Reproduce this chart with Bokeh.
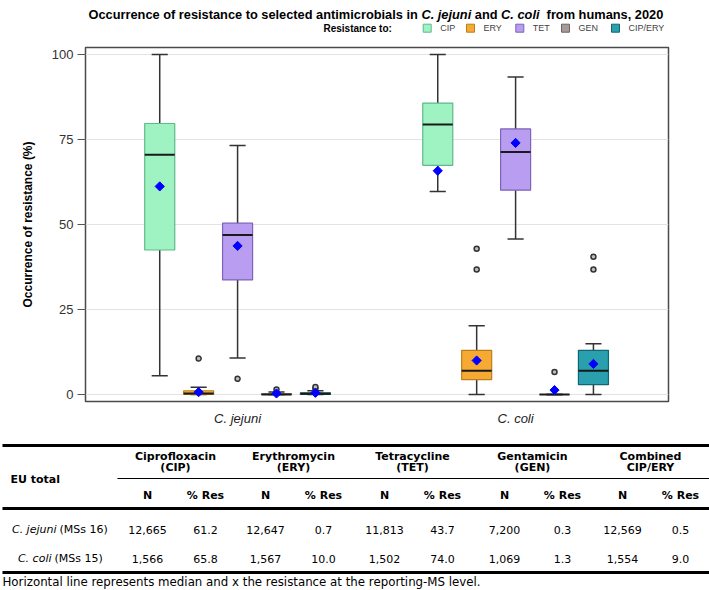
from bokeh.plotting import figure
from bokeh.models import Range1d, FixedTicker, ColumnDataSource
from bokeh.core.properties import value
from bokeh.embed import file_html
from bokeh.resources import INLINE

# ---------------- data ----------------
species = ["C. jejuni", "C. coli"]
species_ms = ["(MSs 16)", "(MSs 15)"]
antimicrobials = ["CIP", "ERY", "TET", "GEN", "CIP/ERY"]
header_line1 = ["Ciprofloxacin", "Erythromycin", "Tetracycline", "Gentamicin", "Combined"]
header_line2 = ["(CIP)", "(ERY)", "(TET)", "(GEN)", "CIP/ERY"]

# box statistics (order: C. jejuni CIP..CIP/ERY, C. coli CIP..CIP/ERY)
whisker_low = [5.5, 0.0, 10.7, 0.0, 0.0, 59.7, 0.0, 45.7, 0.0, 0.0]
q1 = [42.5, 0.0, 33.7, 0.0, 0.0, 67.4, 4.4, 60.1, 0.0, 2.9]
median = [70.5, 0.3, 46.9, 0.0, 0.2, 79.4, 7.0, 71.3, 0.0, 7.0]
q3 = [79.7, 1.1, 50.4, 0.2, 0.5, 85.7, 13.0, 78.1, 0.0, 13.0]
whisker_high = [100.0, 2.1, 73.2, 0.7, 1.1, 100.0, 20.2, 93.4, 0.0, 14.9]
outlier_box = [1, 2, 3, 4, 4, 6, 6, 8, 9, 9]
outlier_value = [10.6, 4.6, 1.5, 1.7, 2.2, 36.8, 42.9, 6.6, 36.8, 40.5]

# EU totals table
n_jejuni = [12665, 12647, 11813, 7200, 12569]
res_jejuni = [61.2, 0.7, 43.7, 0.3, 0.5]
n_coli = [1566, 1567, 1502, 1069, 1554]
res_coli = [65.8, 10.0, 74.0, 1.3, 9.0]

fills = ["#9ff3c2", "#f6aa34", "#b89df1", "#a79a9a", "#2a9fae"]
lines = ["#5fb98a", "#b97f1d", "#7d63b9", "#6f6262", "#106670"]

W = 709
H_HDR, H_CHART, H_TAB = 38, 392, 160

# ---------------- header (title + legend) ----------------
AB = {' ': 278, 'O': 778, 'c': 556, 'u': 611, 'r': 389, 'e': 556, 'n': 611, 'o': 611, 'f': 333,
      's': 556, 'i': 278, 't': 333, 'l': 278, 'd': 611, 'a': 556, 'm': 889, 'b': 611, 'h': 611,
      'j': 278, 'C': 722, '.': 278, ',': 278, '2': 556, '0': 556}

def wbold(s, size):
    return sum(AB.get(ch, 556) for ch in s) * size / 1000.0

hdr = figure(width=W, height=H_HDR, x_range=Range1d(0, W), y_range=Range1d(H_HDR, 0),
             output_backend="svg", toolbar_location=None, min_border=0,
             min_border_left=0, min_border_right=0, min_border_top=0, min_border_bottom=0,
             x_axis_location=None, y_axis_location=None)
hdr.grid.visible = False
hdr.outline_line_color = None

title_parts = [("Occurrence of resistance to selected antimicrobials in ", "bold"),
               ("C. jejuni", "bold italic"), (" and ", "bold"), ("C. coli", "bold italic"),
               ("  from humans, 2020", "bold")]
tsize = 12.8
cx = 88.0
for txt, style in title_parts:
    stripped = txt.lstrip(" ")
    lead = wbold(txt[:len(txt) - len(stripped)], tsize)
    hdr.text(x=[cx + lead], y=[13.5], text=[stripped.rstrip(" ")], text_font=value("Liberation Sans"),
             text_font_size=value(f"{tsize}px"), text_font_style=style, text_color="#000000",
             text_align="left", text_baseline="alphabetic")
    cx += wbold(txt, tsize)

hdr.text(x=[323], y=[27.7], text=["Resistance to:"], text_font=value("Liberation Sans"),
         text_font_size=value("10px"), text_font_style="bold", text_color="#000000",
         text_align="left", text_baseline="middle")
sw_x = [426.7, 470.0, 519.3, 565.0, 615.0]
hdr.rect(x=sw_x, y=[27.7] * 5, width=8, height=8, fill_color=fills, line_color=lines, line_width=1)
hdr.text(x=[s + 13 for s in sw_x], y=[27.7] * 5, text=antimicrobials, text_font=value("Liberation Sans"),
         text_font_size=value("9px"), text_color="#444444", text_align="left", text_baseline="middle")

# ---------------- box plot ----------------
p = figure(width=W, height=H_CHART, x_range=Range1d(-0.547, 1.550), y_range=Range1d(-2.06, 102.06),
           output_backend="svg", toolbar_location=None,
           min_border_left=85, min_border_right=41, min_border_top=9, min_border_bottom=29)
p.outline_line_color = "#4a4a4a"
p.outline_line_width = 1.5
p.xgrid.visible = False
p.ygrid.ticker = FixedTicker(ticks=[0, 25, 50, 75, 100])
p.ygrid.grid_line_color = "#e3e3e3"
p.ygrid.grid_line_width = 1.2

p.yaxis.ticker = FixedTicker(ticks=[0, 25, 50, 75, 100])
p.yaxis.axis_line_color = None
p.yaxis.major_tick_out = 8
p.yaxis.major_tick_in = 0
p.yaxis.major_tick_line_color = "#555555"
p.yaxis.minor_tick_line_color = None
p.yaxis.major_label_standoff = 4
p.yaxis.major_label_text_font = "Liberation Sans"
p.yaxis.major_label_text_font_size = "13px"
p.yaxis.major_label_text_color = "#333333"
p.yaxis.axis_label = "Occurrence of resistance (%)"
p.yaxis.axis_label_text_font = "Liberation Sans"
p.yaxis.axis_label_text_font_size = "12px"
p.yaxis.axis_label_text_font_style = "bold"
p.yaxis.axis_label_text_color = "#000000"
p.yaxis.axis_label_standoff = 14

p.xaxis.ticker = FixedTicker(ticks=[0, 1])
p.xaxis.major_label_overrides = {0: species[0], 1: species[1]}
p.xaxis.axis_line_color = None
p.xaxis.major_tick_line_color = None
p.xaxis.minor_tick_line_color = None
p.xaxis.major_tick_out = 0
p.xaxis.major_label_standoff = 9
p.xaxis.major_label_text_font = "Liberation Sans"
p.xaxis.major_label_text_font_size = "13px"
p.xaxis.major_label_text_font_style = "italic"
p.xaxis.major_label_text_color = "#222222"

step = 0.14
xs = [si + (k - 2) * step for si in range(len(species)) for k in range(len(antimicrobials))]
box_fill = fills * len(species)
box_line = lines * len(species)
means = res_jejuni + res_coli

bw = 0.108
cw = 0.058
src = ColumnDataSource(dict(x=xs, lo=whisker_low, q1=q1, med=median, q3=q3, hi=whisker_high,
                            fill=box_fill, line=box_line, mean=means,
                            cl=[x - cw / 2 for x in xs], cr=[x + cw / 2 for x in xs],
                            bl=[x - bw / 2 for x in xs], br=[x + bw / 2 for x in xs]))
p.segment(x0="x", y0="q3", x1="x", y1="hi", source=src, line_color="#333333", line_width=1.5)
p.segment(x0="x", y0="lo", x1="x", y1="q1", source=src, line_color="#333333", line_width=1.5)
p.segment(x0="cl", y0="hi", x1="cr", y1="hi", source=src, line_color="#333333", line_width=1.5)
p.segment(x0="cl", y0="lo", x1="cr", y1="lo", source=src, line_color="#333333", line_width=1.5)
p.vbar(x="x", width=bw, bottom="q1", top="q3", source=src, fill_color="fill", line_color="line",
       line_width=1.2)
p.segment(x0="bl", y0="med", x1="br", y1="med", source=src, line_color="#1a1a1a", line_width=2)

p.scatter(x=[xs[i] for i in outlier_box], y=outlier_value, marker="circle", size=5,
          fill_color="#bdbdbd", line_color="#333333", line_width=1.5)
p.scatter(x="x", y="mean", source=src, marker="square", angle=0.785398, size=6.5,
          fill_color="#0000ff", line_color="#0000ff")

# ---------------- table ----------------
t = figure(width=W, height=H_TAB, x_range=Range1d(0, W), y_range=Range1d(H_TAB, 0),
           output_backend="svg", toolbar_location=None, min_border=0,
           min_border_left=0, min_border_right=0, min_border_top=0, min_border_bottom=0,
           x_axis_location=None, y_axis_location=None)
t.grid.visible = False
t.outline_line_color = None

F = value("DejaVu Sans")
FS = value("11px")
t.segment(x0=[2, 2, 2], y0=[15, 78, 142], x1=[W, W, W], y1=[15, 78, 142], line_color="#000000", line_width=3)
t.segment(x0=[117], y0=[48], x1=[W], y1=[48], line_color="#000000", line_width=1)

group_x = [175, 293, 412, 532, 650]
n_x = [g - 28 for g in group_x]
r_x = [g + 30 for g in group_x]

t.text(x=[10], y=[49], text=["EU total"], text_font=F, text_font_size=FS,
       text_font_style="bold", text_align="left", text_baseline="middle", text_color="#000000")
t.text(x=group_x, y=[25.5] * 5, text=header_line1, text_font=F, text_font_size=FS,
       text_font_style="bold", text_align="center", text_baseline="middle", text_color="#000000")
t.text(x=group_x, y=[36.5] * 5, text=header_line2, text_font=F, text_font_size=FS,
       text_font_style="bold", text_align="center", text_baseline="middle", text_color="#000000")
t.text(x=n_x + r_x, y=[65] * 10, text=["N"] * 5 + ["% Res"] * 5, text_font=F,
       text_font_size=FS, text_font_style="bold", text_align="center",
       text_baseline="middle", text_color="#000000")

row_y = [99, 128]
join_x = [56, 51]
for ri, (nn, rr) in enumerate([(n_jejuni, res_jejuni), (n_coli, res_coli)]):
    t.text(x=[join_x[ri]], y=[row_y[ri]], text=[species[ri]], text_font=F, text_font_size=FS,
           text_font_style="italic", text_align="right", text_baseline="middle", text_color="#000000")
    t.text(x=[join_x[ri] + 3], y=[row_y[ri]], text=[species_ms[ri]], text_font=F,
           text_font_size=FS, text_align="left", text_baseline="middle", text_color="#000000")
    t.text(x=n_x, y=[row_y[ri]] * 5, text=[f"{v:,}" for v in nn], text_font=F,
           text_font_size=FS, text_align="center", text_baseline="middle", text_color="#000000")
    t.text(x=r_x, y=[row_y[ri]] * 5, text=[f"{v:.1f}" for v in rr], text_font=F,
           text_font_size=FS, text_align="center", text_baseline="middle", text_color="#000000")

t.text(x=[2], y=[151], text=["Horizontal line represents median and x the resistance at the reporting-MS level."],
       text_font=F, text_font_size=value("11.8px"), text_align="left", text_baseline="middle",
       text_color="#000000")

open("out.html", "w").write(file_html([hdr, p, t], INLINE))
